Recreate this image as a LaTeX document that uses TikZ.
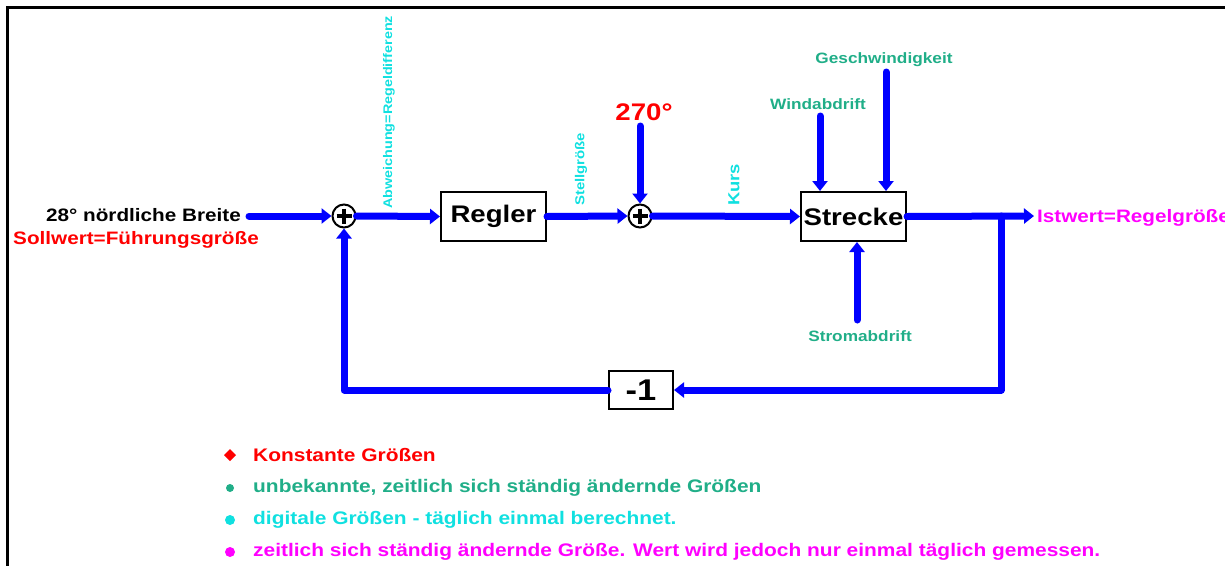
\documentclass[tikz,border=0pt]{standalone}
\usepackage{fontspec}
\setmainfont{Liberation Sans}[FakeStretch=1.15]
\usetikzlibrary{arrows.meta,calc}
\definecolor{fblue}{RGB}{0,0,255}
\definecolor{fgreen}{RGB}{32,174,136}
\definecolor{fcyan}{RGB}{16,224,224}
\definecolor{fred}{RGB}{255,0,0}
\definecolor{fmag}{RGB}{255,0,255}
\newcommand{\fs}[1]{\fontsize{#1}{#1}\selectfont\bfseries}
\tikzset{
  flowline/.style={draw=fblue,line width=7pt,line cap=round,line join=round},
  flow/.style={flowline,-{Triangle[length=10pt,width=15pt]}},
  blk/.style={draw=black,line width=2pt,fill=white,minimum width=105pt,minimum height=49pt,inner sep=0pt,font=\fs{24}},
  sum/.style={circle,draw=black,line width=2pt,fill=white,minimum size=23pt,inner sep=0pt},
  txt/.style={inner sep=0pt},
  glab/.style={txt,text=fgreen,font=\fs{15}},
  clab/.style={txt,text=fcyan,rotate=90,anchor=west},
  legend/.style={txt,anchor=west,font=\fs{18.2}},
}
\begin{document}
\begin{tikzpicture}[x=1pt,y=-1pt]
\useasboundingbox (0,0) rectangle (1225,565);
% frame
\draw[line width=3pt] (7,570) -- (7,7.5) -- (1230,7.5);

% blocks
\node[sum] (s1) at (344,216) {};
\node[sum] (s2) at (640,216) {};
\foreach \n in {s1,s2}{
  \draw[line width=4.5pt] ($(\n)+(-7.5,0)$) -- ($(\n)+(7.5,0)$);
  \draw[line width=4.5pt] ($(\n)+(0,-7.5)$) -- ($(\n)+(0,7.5)$);
}
\node[blk] (reg) at (493.5,216.5) {Regler};
\node[blk] (str) at (853.5,216.5) {Strecke};
\node[blk,minimum width=64pt,minimum height=38pt,font=\fs{30}] (neg) at (641,390) {-1};

% texts
\node[txt,anchor=east,font=\fs{18}] (breite) at (241,215) {28° nördliche Breite};
\node[txt,anchor=west,text=fred,font=\fs{18}] (soll) at (13,240) {Sollwert=Führungsgröße};
\node[txt,anchor=west,text=fmag,font=\fs{18}] (ist) at (1037,218) {Istwert=Regelgröße};
\node[txt,text=fred,font=\fs{24}] (t270) at (644,112) {270°};
\node[glab] (wind) at (818,104) {Windabdrift};
\node[glab] (gesch) at (884,60) {Geschwindigkeit};
\node[glab] (strom) at (860,336) {Stromabdrift};
\node[clab,font=\fs{12.5}] (abw) at (389,209) {Abweichung=Regeldifferenz};
\node[clab,font=\fs{13}] (stell) at (581,206) {Stellgröße};
\node[clab,font=\fs{16}] (kurs) at (734,206) {Kurs};

% connectors
\coordinate (in) at (249,216);
\coordinate (out) at (1034,216);
\coordinate (br) at (1001,216);
\draw[flow] (in) -- (s1.west);
\draw[flow] (s1.east) -- (reg.west);
\draw[flow] (reg.east) -- (s2.west);
\draw[flow] (s2.east) -- (str.west);
\draw[flow] (str.east) -- (out);
\draw[flow] (br) |- (neg.east);
\draw[flow] (neg.west) -| (s1.south);
\coordinate (ktop) at (640,126);
\coordinate (wtop) at (820,116);
\coordinate (gtop) at (886,72);
\coordinate (sbot) at (857,320);
\draw[flow] (ktop) -- (s2.north);
\draw[flow] (wtop) -- (wtop |- str.north);
\draw[flow] (gtop) -- (gtop |- str.north);
\draw[flow] (sbot) -- (sbot |- str.south);

% legend
\fill[fred] (224,455) -- (230,449) -- (236,455) -- (230,461) -- cycle;
\fill[fgreen] (230,488) circle (4pt);
\fill[fcyan] (230,520) circle (5pt);
\fill[fmag] (230,552) circle (5pt);
\node[legend,text=fred] (l1) at (253,455) {Konstante Größen};
\node[legend,text=fgreen] (l2) at (253,488) {unbekannte, zeitlich sich ständig ändernde Größen};
\node[legend,text=fcyan] (l3) at (253,520) {digitale Größen - täglich einmal berechnet.};
\node[legend,text=fmag] (l4) at (253,552) {zeitlich sich ständig ändernde Größe. Wert wird jedoch nur einmal täglich gemessen.};
\end{tikzpicture}
\end{document}
